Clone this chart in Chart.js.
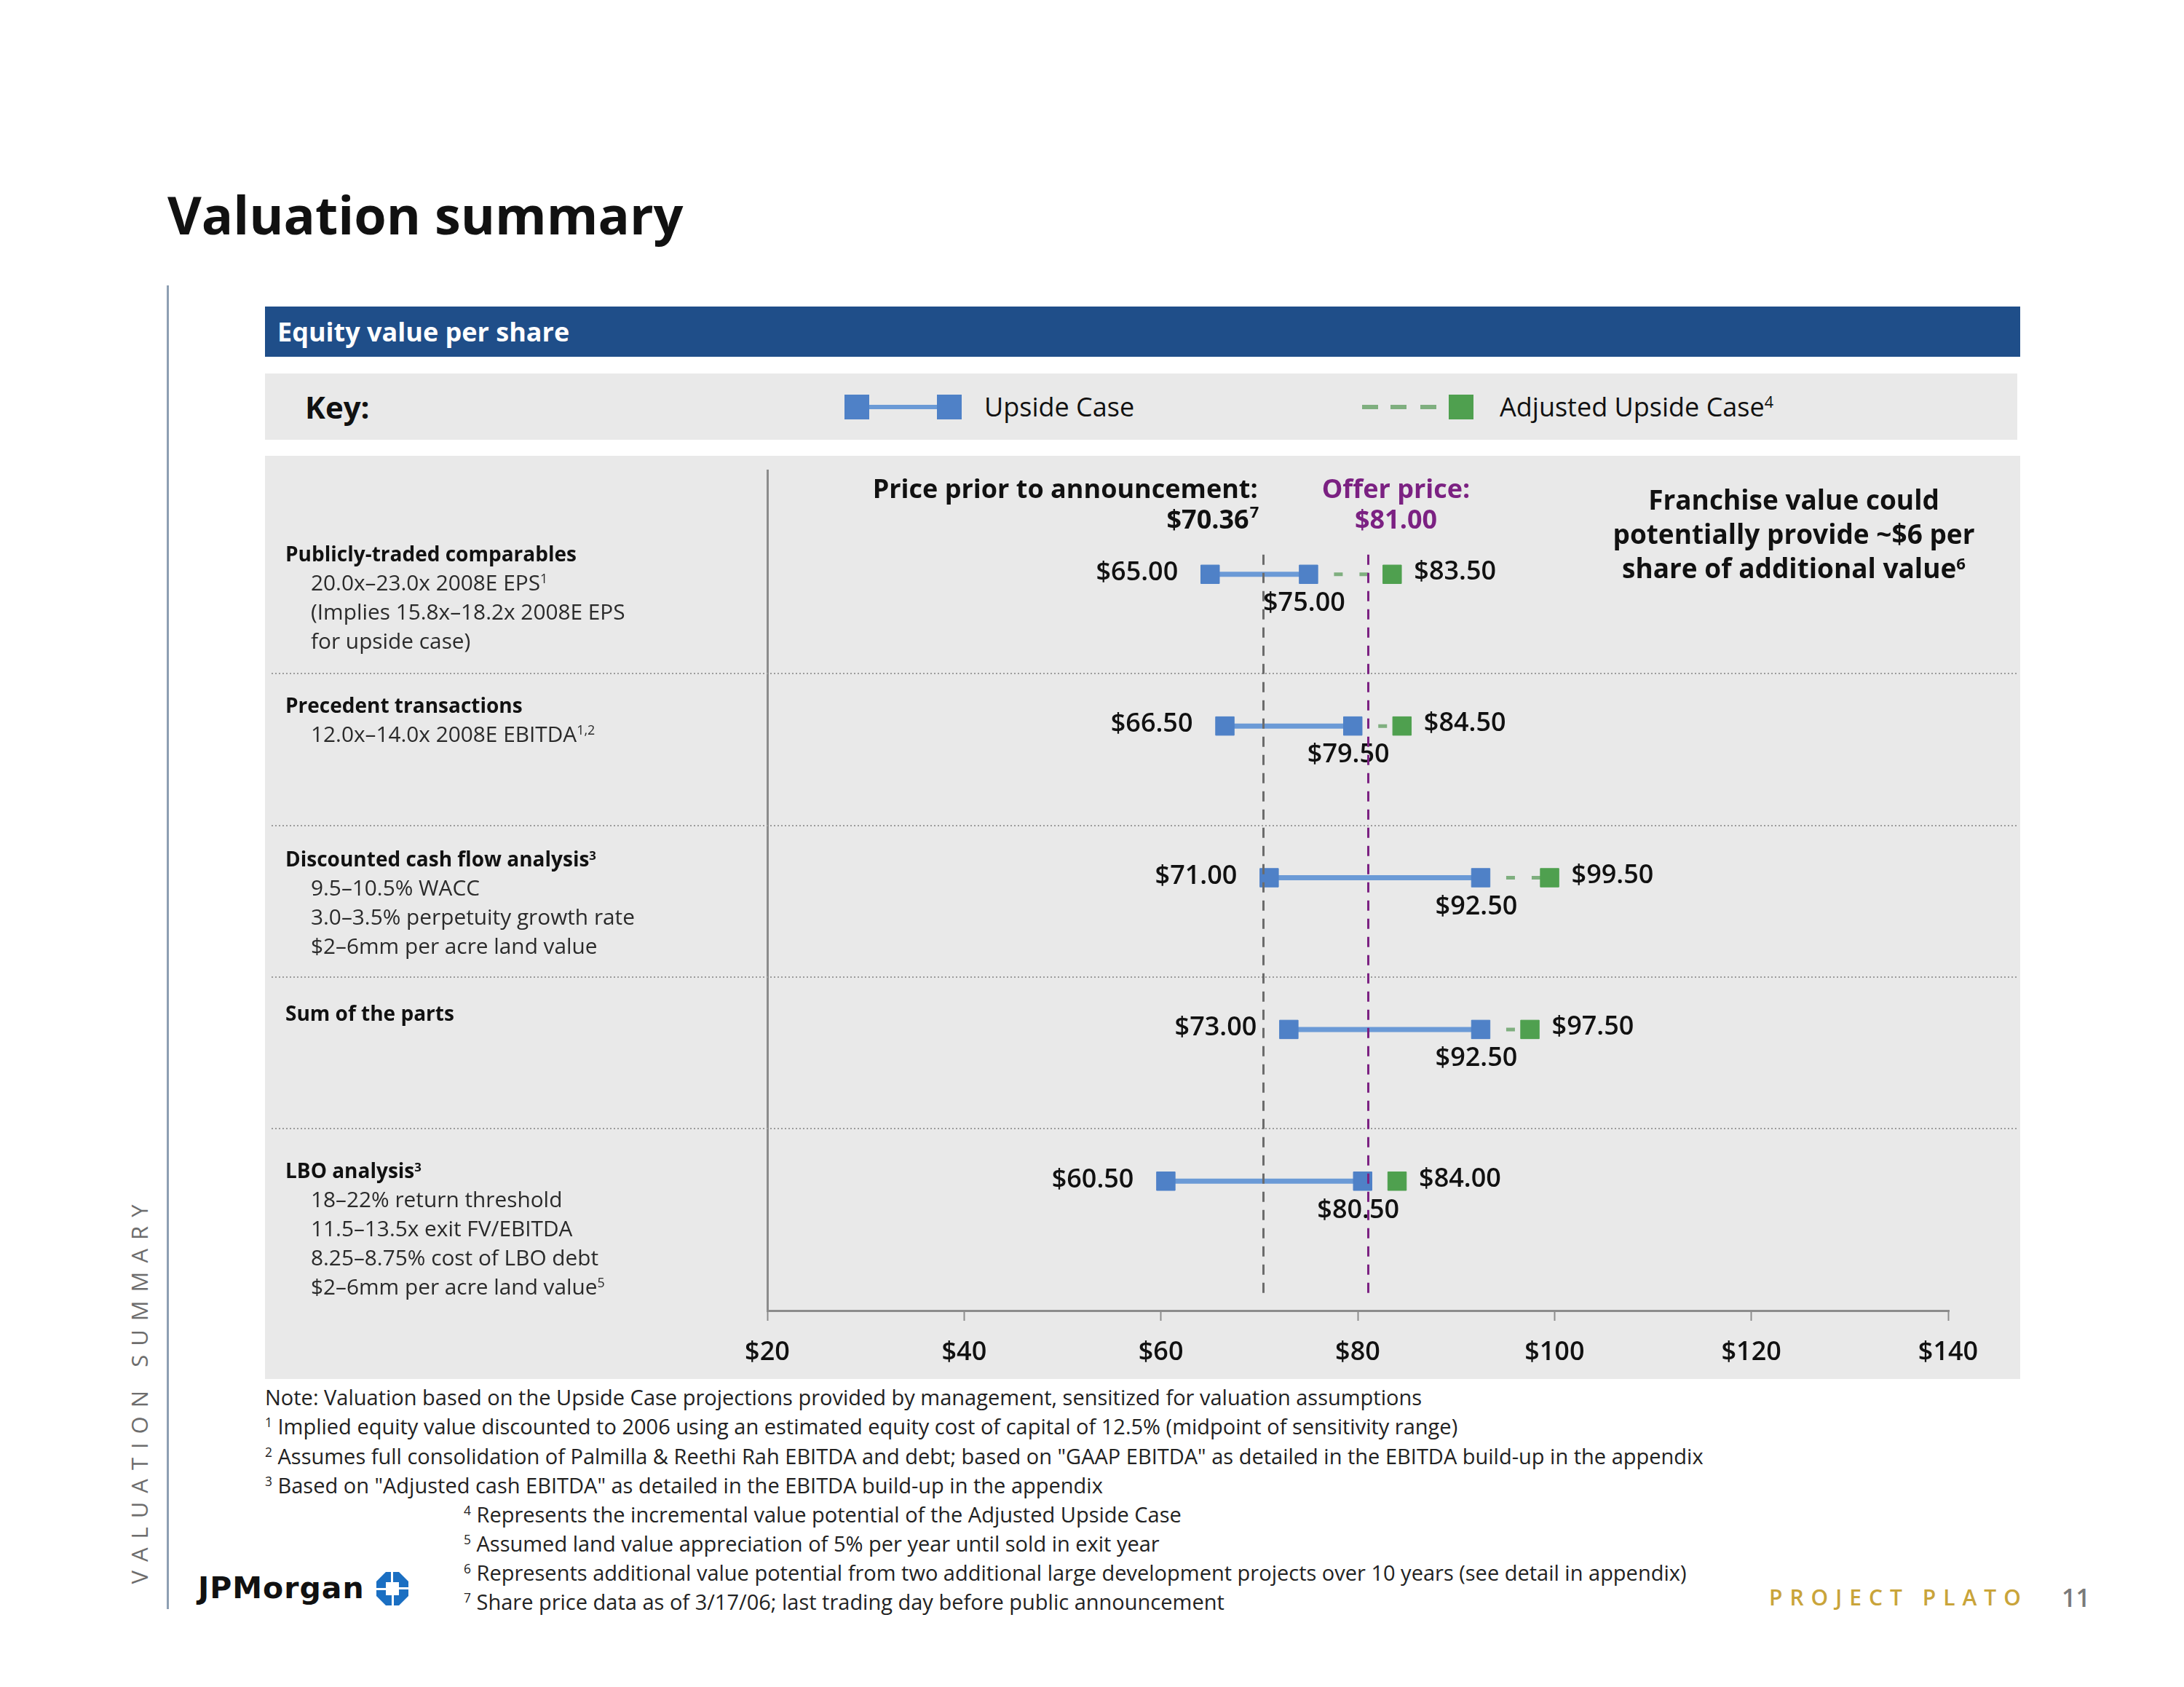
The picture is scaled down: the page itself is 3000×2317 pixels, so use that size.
<!DOCTYPE html>
<html>
<head>
<meta charset="utf-8">
<title>Valuation summary</title>
<script src="https://cdn.jsdelivr.net/npm/chart.js@4.4.1/dist/chart.umd.min.js"></script>
<style>
  body { margin: 0; width: 3000px; height: 2317px; position: relative; background: #fff; font-family: "Open Sans", sans-serif; color: #111; overflow: hidden; }
  .abs { position: absolute; white-space: nowrap; }
  sup { font-size: 0.6em; vertical-align: 0.55em; line-height: 0; }
  .lbl-title { font: 700 28px/40px "Open Sans"; color: #111; }
  .lbl-sub { font: 400 29.8px/40px "Open Sans"; color: #2a2a2a; padding-left: 35px; }
  .foot { font: 400 29px/40px "Open Sans"; color: #222; }
</style>
</head>
<body>

<div class="abs" style="left:230px; top:251px; font:700 72px/86px 'Open Sans';">Valuation summary</div>

<!-- side rule + rotated section name -->
<div class="abs" style="left:229px; top:392px; width:3px; height:1818px; background:#8e9fb3;"></div>
<div class="abs" style="left:-139px; top:1889px; width:660px; height:40px; font:400 31px/40px 'Open Sans'; letter-spacing:12px; color:#6d6d6d; text-align:center; transform:rotate(-90deg);">VALUATION SUMMARY</div>

<!-- header bar -->
<div class="abs" style="left:364px; top:421px; width:2411px; height:69px; background:#1f4e89;">
  <div style="padding-left:17px; font:700 36px/69px 'Open Sans'; color:#fff;">Equity value per share</div>
</div>

<!-- key -->
<div class="abs" style="left:364px; top:513px; width:2407px; height:91px; background:#e9e9e9;"></div>
<div class="abs" style="left:419px; top:534px; font:700 42px/50px 'Open Sans';">Key:</div>
<div class="abs" style="left:1193px; top:556px; width:94px; height:6px; background:#6b9ad6;"></div>
<div class="abs" style="left:1160px; top:542px; width:34px; height:34px; background:#4f81c7;"></div>
<div class="abs" style="left:1287px; top:542px; width:34px; height:34px; background:#4f81c7;"></div>
<div class="abs" style="left:1352px; top:535px; font:400 36px/48px 'Open Sans';">Upside Case</div>
<div class="abs" style="left:1871px; top:556px; width:22px; height:6px; background:#7faf7f;"></div>
<div class="abs" style="left:1910px; top:556px; width:22px; height:6px; background:#7faf7f;"></div>
<div class="abs" style="left:1951px; top:556px; width:22px; height:6px; background:#7faf7f;"></div>
<div class="abs" style="left:1990px; top:542px; width:34px; height:34px; background:#4fa04f;"></div>
<div class="abs" style="left:2060px; top:535px; font:400 36px/48px 'Open Sans';">Adjusted Upside Case<sup>4</sup></div>

<!-- chart panel -->
<div class="abs" style="left:364px; top:626px; width:2411px; height:1268px; background:#e9e9e9;">
  <canvas id="chart"></canvas>
</div>
<div id="rowLabels"></div>

<div class="abs" style="left:2164px; top:662px; width:600px; text-align:center; font:700 37px/47px 'Open Sans'; white-space:normal;">
  Franchise value could<br>potentially provide ~$6 per<br>share of additional value<sup>6</sup>
</div>

<!-- footnotes -->
<div class="abs foot" style="left:364px; top:1899px;">Note: Valuation based on the Upside Case projections provided by management, sensitized for valuation assumptions</div>
<div class="abs foot" style="left:364px; top:1939px;"><sup>1</sup> Implied equity value discounted to 2006 using an estimated equity cost of capital of 12.5% (midpoint of sensitivity range)</div>
<div class="abs foot" style="left:364px; top:1980px;"><sup>2</sup> Assumes full consolidation of Palmilla &amp; Reethi Rah EBITDA and debt; based on "GAAP EBITDA" as detailed in the EBITDA build-up in the appendix</div>
<div class="abs foot" style="left:364px; top:2020px;"><sup>3</sup> Based on "Adjusted cash EBITDA" as detailed in the EBITDA build-up in the appendix</div>
<div class="abs foot" style="left:637px; top:2060px;"><sup>4</sup> Represents the incremental value potential of the Adjusted Upside Case</div>
<div class="abs foot" style="left:637px; top:2100px;"><sup>5</sup> Assumed land value appreciation of 5% per year until sold in exit year</div>
<div class="abs foot" style="left:637px; top:2140px;"><sup>6</sup> Represents additional value potential from two additional large development projects over 10 years (see detail in appendix)</div>
<div class="abs foot" style="left:637px; top:2180px;"><sup>7</sup> Share price data as of 3/17/06; last trading day before public announcement</div>

<!-- branding -->
<div class="abs" style="left:272px; top:2156px; font:700 41px/50px 'DejaVu Sans'; letter-spacing:1px; color:#111;">JPMorgan</div>
<svg class="abs" style="left:517px; top:2159px;" width="44" height="46" viewBox="0 0 44 46">
  <polygon points="13,0 31,0 44,13 44,33 31,46 13,46 0,33 0,13" fill="#1b6fc2"/>
  <rect x="13" y="14" width="18" height="18" fill="#fff"/>
  <rect x="20" y="0" width="3" height="14" fill="#fff"/>
  <rect x="31" y="21" width="13" height="3" fill="#fff"/>
  <rect x="21" y="32" width="3" height="14" fill="#fff"/>
  <rect x="0" y="22" width="13" height="3" fill="#fff"/>
</svg>
<div class="abs" style="left:2430px; top:2170px; font:600 30px/48px 'Open Sans'; letter-spacing:10px; color:#c9a43a;">PROJECT PLATO</div>
<div class="abs" style="left:2832px; top:2170px; font:600 34px/48px 'Open Sans'; color:#7a7a7a;">11</div>

<script>
// ---- data ----
const methods = [
  "Publicly-traded comparables",
  "Precedent transactions",
  "Discounted cash flow analysis",
  "Sum of the parts",
  "LBO analysis",
];
const methodSup = ["", "", "3", "", "3"];
const methodNotes = [
  ["20.0x\u201323.0x 2008E EPS<sup>1</sup>", "(Implies 15.8x\u201318.2x 2008E EPS", "for upside case)"],
  ["12.0x\u201314.0x 2008E EBITDA<sup>1,2</sup>"],
  ["9.5\u201310.5% WACC", "3.0\u20133.5% perpetuity growth rate", "$2\u20136mm per acre land value"],
  [],
  ["18\u201322% return threshold", "11.5\u201313.5x exit FV/EBITDA", "8.25\u20138.75% cost of LBO debt", "$2\u20136mm per acre land value<sup>5</sup>"],
];
const upsideLow = [65.0, 66.5, 71.0, 73.0, 60.5];
const upsideHigh = [75.0, 79.5, 92.5, 92.5, 80.5];
const adjustedHigh = [83.5, 84.5, 99.5, 97.5, 84.0];
const priorPrice = 70.36;
const offerPrice = 81.0;
const xTicks = [20, 40, 60, 80, 100, 120, 140];

const BLUE_LINE = "#6b9ad6", BLUE = "#4f81c7", GREEN = "#4fa04f", GREEN_DASH = "#7faf7f";
const PURPLE = "#7b2182", GREY_REF = "#6b6b6b";
const FONT = "'Open Sans'";

/* ---------- row labels (left column) ---------- */
const labelTops = [740, 948, 1159, 1371, 1587];
const rowLabels = document.getElementById("rowLabels");
methods.forEach((m, i) => {
  const div = document.createElement("div");
  div.className = "abs";
  div.style.left = "392px";
  div.style.top = labelTops[i] + "px";
  let html = `<div class="lbl-title">${m}${methodSup[i] ? "<sup>" + methodSup[i] + "</sup>" : ""}</div>`;
  methodNotes[i].forEach((n) => (html += `<div class="lbl-sub">${n}</div>`));
  div.innerHTML = html;
  rowLabels.append(div);
});

/* ---------- datasets ---------- */
const datasets = [];
methods.forEach((m, i) => {
  datasets.push({
    label: "Adjusted connector",
    data: [{ x: upsideHigh[i], y: i }, { x: adjustedHigh[i], y: i }],
    borderColor: GREEN_DASH,
    borderWidth: 5,
    borderDash: [12, 23],
    pointRadius: 0,
    order: 3,
  });
  datasets.push({
    label: "Upside Case",
    data: [{ x: upsideLow[i], y: i }, { x: upsideHigh[i], y: i }],
    borderColor: BLUE_LINE,
    borderWidth: 7,
    pointStyle: "rect",
    pointRadius: 18,
    pointBackgroundColor: BLUE,
    pointBorderColor: BLUE,
    pointBorderWidth: 1,
    order: 2,
  });
  datasets.push({
    label: "Adjusted Upside Case",
    data: [{ x: adjustedHigh[i], y: i }],
    showLine: false,
    pointStyle: "rect",
    pointRadius: 18,
    pointBackgroundColor: GREEN,
    pointBorderColor: GREEN,
    pointBorderWidth: 1,
    order: 1,
  });
});

const fmt = (v) => "$" + v.toFixed(2);

/* ---------- overlay: separators, value labels, reference lines ---------- */
const overlay = {
  id: "overlay",
  beforeDatasetsDraw(chart) {
    const { ctx, scales: { y } } = chart;
    ctx.save();
    ctx.strokeStyle = "#9c9c9c";
    ctx.lineWidth = 2;
    ctx.setLineDash([2, 3]);
    for (let i = 0; i < methods.length - 1; i++) {
      const py = Math.round(y.getPixelForValue(i + 0.655));
      ctx.beginPath();
      ctx.moveTo(9, py);
      ctx.lineTo(chart.width - 4, py);
      ctx.stroke();
    }
    ctx.restore();
  },
  afterDatasetsDraw(chart) {
    const { ctx, chartArea, scales: { x, y } } = chart;
    ctx.save();
    ctx.fillStyle = "#111";
    ctx.font = `600 36px ${FONT}`;
    ctx.textBaseline = "middle";
    methods.forEach((m, i) => {
      const py = y.getPixelForValue(i);
      ctx.textAlign = "right";
      ctx.fillText(fmt(upsideLow[i]), x.getPixelForValue(upsideLow[i]) - 44, py - 2);
      ctx.textAlign = "center";
      ctx.fillText(fmt(upsideHigh[i]), x.getPixelForValue(upsideHigh[i]) - 6, py + 40);
      ctx.textAlign = "left";
      ctx.fillText(fmt(adjustedHigh[i]), x.getPixelForValue(adjustedHigh[i]) + 30, py - 3);
    });

    // reference lines on top
    const top = y.getPixelForValue(0) - 27;
    const bottom = chartArea.bottom - 20;
    const refLine = (v, color, w) => {
      const px = Math.round(x.getPixelForValue(v)) + 0.5;
      ctx.strokeStyle = color;
      ctx.lineWidth = w;
      ctx.setLineDash([14, 11]);
      ctx.beginPath();
      ctx.moveTo(px, top);
      ctx.lineTo(px, bottom);
      ctx.stroke();
    };
    refLine(priorPrice, GREY_REF, 3);
    refLine(offerPrice, PURPLE, 3);

    // annotations
    const priorX = x.getPixelForValue(priorPrice);
    const offerX = x.getPixelForValue(offerPrice);
    ctx.font = `700 36px ${FONT}`;
    ctx.fillStyle = "#111";
    ctx.textAlign = "right";
    ctx.fillText("Price prior to announcement:", priorX - 7, chartArea.top + 29);
    ctx.fillText("$" + priorPrice.toFixed(2), priorX - 19, chartArea.top + 71);
    ctx.font = `700 22px ${FONT}`;
    ctx.textAlign = "left";
    ctx.fillText("7", priorX - 18, chartArea.top + 60);
    ctx.font = `700 36px ${FONT}`;
    ctx.fillStyle = PURPLE;
    ctx.textAlign = "center";
    ctx.fillText("Offer price:", offerX + 39, chartArea.top + 29);
    ctx.fillText(fmt(offerPrice), offerX + 39, chartArea.top + 71);
    ctx.restore();
  },
};

Chart.defaults.font.family = FONT;

new Chart(document.getElementById("chart").getContext("2d"), {
  type: "line",
  data: { datasets },
  options: {
    responsive: true,
    maintainAspectRatio: false,
    animation: false,
    events: [],
    layout: { padding: { left: 690, top: 17, right: 99, bottom: 0 } },
    plugins: { legend: { display: false }, tooltip: { enabled: false } },
    scales: {
      x: {
        type: "linear",
        min: xTicks[0],
        max: xTicks[xTicks.length - 1],
        afterBuildTicks: (s) => { s.ticks = xTicks.map((v) => ({ value: v })); },
        afterFit: (s) => { s.height = 94; },
        ticks: {
          callback: (v) => "$" + v,
          font: { size: 36, weight: "600" },
          color: "#111",
          padding: 22,
          maxRotation: 0,
        },
        grid: {
          color: (c) => (c.tick && c.tick.value === xTicks[0] ? "#8c8c8c" : "rgba(0,0,0,0)"),
          lineWidth: 3,
          tickColor: "#8c8c8c",
          tickLength: 14,
          tickWidth: 2,
        },
        border: { color: "#8c8c8c", width: 3 },
      },
      y: {
        type: "linear",
        reverse: true,
        min: -0.69,
        max: 4.853,
        display: false,
      },
    },
  },
  plugins: [overlay],
});
</script>
</body>
</html>
